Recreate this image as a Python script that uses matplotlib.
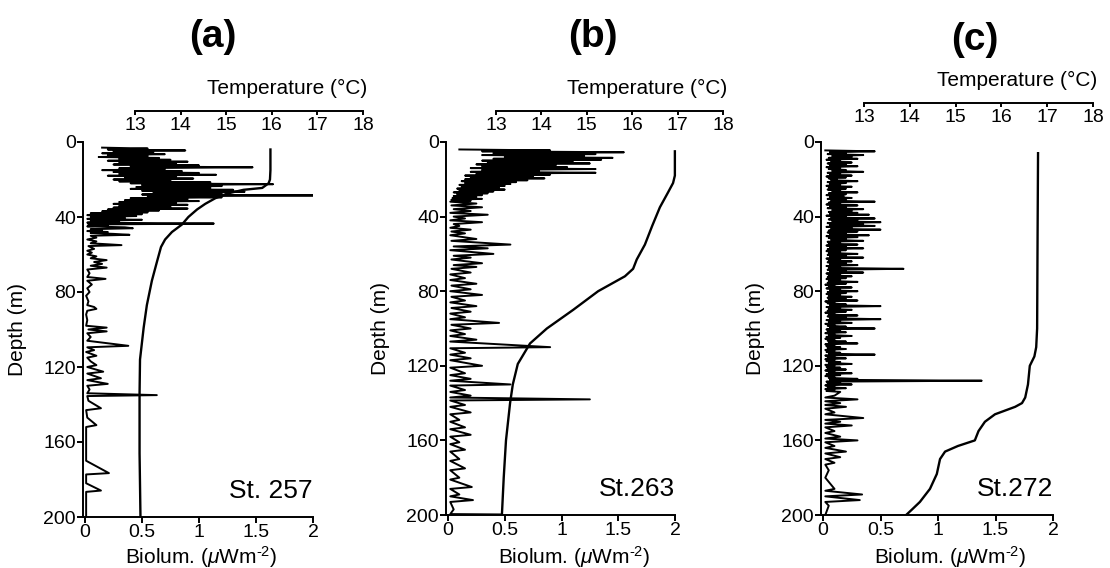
import numpy as np
import matplotlib.pyplot as plt

plt.rcParams.update({'font.family': ['Liberation Sans', 'DejaVu Sans'], 'font.size': 14,
                     'mathtext.fontset': 'custom', 'mathtext.rm': 'Liberation Sans',
                     'mathtext.it': 'Liberation Sans:italic'})

# ---- St. 257 ----
a_top_depth = np.arange(3.0, 38.5, 0.5)
a_top_bio = [0.15, 0.55, 0.20, 0.88, 0.25, 0.60, 0.15, 0.70, 0.20, 0.55,
             0.12, 0.65, 0.30, 0.75, 0.20, 0.90, 0.30, 0.80, 0.25, 1.00,
             0.40, 1.47, 0.30, 0.70, 0.15, 0.85, 0.25, 1.00, 0.30, 1.15,
             0.20, 0.80, 0.35, 0.95, 0.25, 0.75, 0.30, 1.10, 0.40, 1.65,
             0.50, 1.20, 0.45, 1.10, 0.40, 1.30, 0.50, 1.40, 0.60, 1.20,
             0.50, 2.00, 0.55, 1.20, 0.40, 0.90, 0.35, 1.00, 0.30, 0.80,
             0.25, 0.90, 0.30, 0.75, 0.25, 0.90, 0.20, 0.65, 0.15, 0.55, 0.05]
a_deep_depth = [38.5, 39, 39.5, 40, 40.5, 41, 41.5, 42, 42.5, 43,
                43.5, 44, 44.5, 45, 45.5, 46, 46.5, 47, 47.5, 48,
                48.5, 49, 49.5, 50, 51, 52, 53, 54, 55, 55.5,
                57, 58, 59, 60, 61, 62, 63, 64, 65, 66,
                67, 68, 70, 72, 73, 74, 76, 78, 80, 82,
                85, 87, 88, 89, 90, 92, 95, 98, 99, 100,
                101, 102, 104, 106, 108.7, 109.5, 111, 112, 114, 115,
                117, 119, 120, 122.5, 123.5, 126, 127, 129, 130, 132,
                134, 135, 135.5, 138, 142, 143, 147, 151, 152, 160,
                170, 176.6, 177.3, 182, 185.9, 186.6, 195, 200]
a_deep_bio = [0.50, 0.02, 0.45, 0.05, 0.35, 0.02, 0.50, 0.05, 0.30, 0.02,
              1.13, 0.03, 0.20, 0.02, 0.35, 0.42, 0.05, 0.15, 0.02, 0.20,
              0.05, 0.25, 0.39, 0.05, 0.10, 0.02, 0.10, 0.05, 0.32, 0.03,
              0.08, 0.02, 0.06, 0.02, 0.10, 0.05, 0.19, 0.08, 0.15, 0.05,
              0.19, 0.02, 0.04, 0.02, 0.18, 0.02, 0.06, 0.02, 0.04, 0.01,
              0.03, 0.02, 0.08, 0.10, 0.02, 0.01, 0.02, 0.01, 0.19, 0.03,
              0.19, 0.02, 0.05, 0.02, 0.38, 0.02, 0.08, 0.01, 0.10, 0.02,
              0.05, 0.10, 0.02, 0.16, 0.02, 0.14, 0.02, 0.20, 0.02, 0.04,
              0.02, 0.63, 0.02, 0.03, 0.14, 0.01, 0.02, 0.10, 0.01, 0.01,
              0.01, 0.21, 0.01, 0.01, 0.14, 0.01, 0.01, 0.01]
a_temp_depth = [4, 10, 15, 20, 22, 24.5, 25.5, 27.5, 30, 33, 36, 40, 44, 48, 52, 56,
                64, 74, 87, 99, 116, 134, 166, 200]
a_temp = [15.97, 15.97, 15.97, 15.96, 15.93, 15.79, 15.38, 15.02, 14.76, 14.54, 14.36,
          14.17, 14.03, 13.81, 13.66, 13.57, 13.48, 13.37, 13.26, 13.19, 13.11, 13.10,
          13.10, 13.12]

# ---- St.263 ----
b_top_depth = np.arange(4.0, 32.5, 0.5)
b_top_bio = [0.10, 0.90, 0.30, 1.55, 0.40, 1.30, 0.30, 1.20, 0.50, 1.45,
             0.40, 1.35, 0.30, 1.10, 0.35, 1.25, 0.25, 0.95, 0.30, 1.05,
             0.20, 1.30, 0.30, 0.80, 0.20, 1.30, 0.25, 0.90, 0.15, 0.75,
             0.20, 0.85, 0.15, 0.70, 0.12, 0.60, 0.15, 0.55, 0.10, 0.50,
             0.12, 0.45, 0.08, 0.50, 0.10, 0.40, 0.05, 0.35, 0.08, 0.30,
             0.05, 0.25, 0.04, 0.30, 0.03, 0.20, 0.02]
b_deep_depth = [33, 34, 35, 36, 37, 38, 39, 40, 41, 42, 43, 44, 45, 46, 47, 48, 49, 50,
                52, 53, 55, 56, 57, 58, 60, 61, 62, 63, 65, 66, 67, 68, 70, 71, 73, 74,
                76, 77, 79, 80, 82, 83, 85, 86, 88, 89, 91, 92, 94, 95, 97, 98, 100, 101,
                103, 104, 106, 107, 110, 110.6, 113, 114, 116, 117, 120, 121, 124, 125,
                127, 128, 130, 130.6, 133, 134, 136, 137, 138, 138.6, 141, 142, 145, 146,
                149, 150, 153, 154, 157, 158, 161, 162, 165, 166, 170, 171, 175, 176,
                180, 181, 185, 186, 189, 190, 192, 193, 197, 199.5, 199.7, 200]
b_deep_bio = [0.25, 0.03, 0.30, 0.05, 0.20, 0.02, 0.35, 0.05, 0.15, 0.02, 0.30, 0.05,
              0.10, 0.02, 0.20, 0.03, 0.15, 0.02,
              0.25, 0.03, 0.55, 0.05, 0.35, 0.02, 0.40, 0.05, 0.20, 0.03, 0.30, 0.05,
              0.25, 0.03, 0.20, 0.02, 0.15, 0.02, 0.25, 0.03, 0.20, 0.02, 0.30, 0.03,
              0.15, 0.02, 0.25, 0.03, 0.20, 0.02, 0.15, 0.02, 0.45, 0.03, 0.20, 0.02,
              0.15, 0.02, 0.25, 0.02, 0.90, 0.02, 0.15, 0.02, 0.20, 0.02, 0.30, 0.02,
              0.15, 0.02, 0.20, 0.02, 0.55, 0.02, 0.15, 0.02, 0.20, 0.02, 1.25, 0.02,
              0.15, 0.02, 0.20, 0.02, 0.10, 0.02, 0.15, 0.02, 0.20, 0.02, 0.10, 0.02,
              0.15, 0.02, 0.10, 0.02, 0.15, 0.02, 0.10, 0.02, 0.21, 0.02, 0.10, 0.02,
              0.22, 0.02, 0.05, 0.02, 0.47, 0.47]
b_temp_depth = [5, 18, 22, 27, 35, 45, 55, 63, 68, 72, 80, 90, 100, 108, 119, 130,
                140, 160, 180, 200]
b_temp = [16.94, 16.94, 16.90, 16.79, 16.61, 16.44, 16.28, 16.10, 16.02, 15.84, 15.25,
          14.70, 14.12, 13.75, 13.48, 13.37, 13.31, 13.22, 13.17, 13.13]

# ---- St.272 ----
c_peak_depth = np.arange(5, 135)
c_peak = [0.45, 0.20, 0.35, 0.25, 0.30, 0.15, 0.25, 0.20, 0.30, 0.15,
          0.20, 0.35, 0.15, 0.25, 0.20, 0.12, 0.30, 0.20, 0.15, 0.25,
          0.20, 0.15, 0.30, 0.20, 0.18, 0.25, 0.20, 0.45, 0.15, 0.30,
          0.20, 0.35, 0.25, 0.30, 0.40, 0.20, 0.45, 0.30, 0.50, 0.35,
          0.45, 0.25, 0.50, 0.30, 0.20, 0.40, 0.30, 0.20, 0.35, 0.15,
          0.30, 0.20, 0.35, 0.20, 0.15, 0.30, 0.20, 0.35, 0.15, 0.25,
          0.20, 0.30, 0.15, 0.70, 0.20, 0.35, 0.15, 0.25, 0.20, 0.15,
          0.30, 0.20, 0.10, 0.25, 0.15, 0.30, 0.20, 0.15, 0.25, 0.20,
          0.30, 0.10, 0.20, 0.50, 0.15, 0.25, 0.20, 0.10, 0.30, 0.20,
          0.50, 0.15, 0.25, 0.10, 0.20, 0.45, 0.15, 0.20, 0.10, 0.25,
          0.15, 0.10, 0.20, 0.30, 0.10, 0.15, 0.20, 0.10, 0.15, 0.45,
          0.10, 0.20, 0.10, 0.15, 0.25, 0.10, 0.15, 0.20, 0.10, 0.25,
          0.15, 0.10, 0.30, 1.38, 0.15, 0.25, 0.10, 0.20, 0.10, 0.15]
c_low_depth = np.arange(4.5, 134.5)
c_low = [0.02, 0.06, 0.04, 0.08, 0.05, 0.03, 0.07, 0.04, 0.06, 0.03,
         0.05, 0.08, 0.04, 0.06, 0.03, 0.05, 0.07, 0.04, 0.06, 0.03,
         0.05, 0.04, 0.08, 0.05, 0.03, 0.06, 0.04, 0.07, 0.05, 0.03,
         0.06, 0.04, 0.08, 0.05, 0.06, 0.03, 0.07, 0.05, 0.08, 0.04,
         0.06, 0.03, 0.07, 0.05, 0.04, 0.06, 0.03, 0.05, 0.07, 0.04,
         0.05, 0.03, 0.06, 0.04, 0.03, 0.05, 0.04, 0.06, 0.03, 0.05,
         0.04, 0.06, 0.03, 0.05, 0.04, 0.06, 0.03, 0.05, 0.04, 0.03,
         0.05, 0.04, 0.02, 0.05, 0.03, 0.06, 0.04, 0.03, 0.05, 0.04,
         0.05, 0.02, 0.04, 0.06, 0.03, 0.05, 0.04, 0.02, 0.05, 0.04,
         0.06, 0.03, 0.05, 0.02, 0.04, 0.06, 0.03, 0.04, 0.02, 0.05,
         0.03, 0.02, 0.04, 0.05, 0.02, 0.03, 0.04, 0.02, 0.03, 0.05,
         0.02, 0.04, 0.02, 0.03, 0.05, 0.02, 0.03, 0.04, 0.02, 0.05,
         0.03, 0.02, 0.05, 0.06, 0.03, 0.04, 0.02, 0.04, 0.02, 0.03]
c_deep_depth = [136, 137, 138, 139, 140, 141, 142, 143, 145, 146, 148, 149, 150, 151,
                152, 153, 155, 156, 158, 159, 160, 161, 163, 164, 166, 167, 169, 170,
                172, 173, 176, 180, 186, 187, 189, 190, 192, 193, 195, 200]
c_deep_bio = [0.10, 0.02, 0.30, 0.02, 0.15, 0.02, 0.20, 0.02, 0.10, 0.02, 0.35, 0.02,
              0.15, 0.02, 0.25, 0.02, 0.10, 0.02, 0.15, 0.02, 0.30, 0.02, 0.10, 0.02,
              0.20, 0.02, 0.15, 0.02, 0.10, 0.02, 0.05, 0.02, 0.10, 0.02, 0.34, 0.02,
              0.32, 0.02, 0.05, 0.02]
c_temp_depth = [6, 50, 100, 110, 115, 120, 130, 137, 140, 142, 146, 150, 155, 160, 163,
                166, 170, 178, 186, 193, 197, 200]
c_temp = [16.80, 16.79, 16.78, 16.76, 16.72, 16.62, 16.58, 16.52, 16.45, 16.30, 15.86,
          15.64, 15.50, 15.42, 15.05, 14.77, 14.66, 14.59, 14.44, 14.22, 14.05, 13.92]

depth_ticks = [0, 40, 80, 120, 160, 200]
bio_ticks = [0, 0.5, 1, 1.5, 2]
bio_ticklabels = ['0', '0.5', '1', '1.5', '2']
temp_ticks = [13, 14, 15, 16, 17, 18]

# traces
a_d = np.concatenate([a_top_depth, a_deep_depth])
a_b = np.concatenate([a_top_bio, a_deep_bio])
b_d = np.concatenate([b_top_depth, b_deep_depth])
b_b = np.concatenate([b_top_bio, b_deep_bio])
c_d = np.concatenate([np.column_stack([c_low_depth, c_peak_depth]).ravel(), c_deep_depth])
c_b = np.concatenate([np.column_stack([c_low, c_peak]).ravel(), c_deep_bio])

W, H = 1110, 568
fig = plt.figure(figsize=(W / 100, H / 100), dpi=100)


def rect(x0, x1, ytop, ybot):
    return [x0 / W, 1 - ybot / H, (x1 - x0) / W, (ybot - ytop) / H]


# geometry in pixels: spine x, bio 0 x, bio 2 x, depth 0 y, depth 200 y,
# T13 x, T18 x, temperature spine y
geo = [(83, 85, 313, 142, 517, 135, 363, 111),
       (446, 448, 675, 142, 515, 496, 723, 111),
       (821, 823, 1053, 142, 515, 864, 1093, 103)]
titles = ['(a)', '(b)', '(c)']
title_xy = [(213, 37), (593, 37), (975, 40)]
stations = ['St. 257', 'St.263', 'St.272']
traces = [(a_d, a_b), (b_d, b_b), (c_d, c_b)]
temps = [(a_temp_depth, a_temp), (b_temp_depth, b_temp), (c_temp_depth, c_temp)]
xlabel_x = [201, 574, 950]

for i in range(3):
    sx, x0, x2, yt, yb, t13, t18, ts = geo[i]
    ax = fig.add_axes(rect(sx, x2, yt, yb))
    ax.plot(traces[i][1], traces[i][0], color='black', lw=1.4)
    ax.set_xlim(-2 * (x0 - sx) / (x2 - x0), 2)
    ax.set_ylim(200, 0)
    ax.set_xticks(bio_ticks)
    ax.set_xticklabels(bio_ticklabels)
    ax.set_yticks(depth_ticks)
    for s in ['top', 'right']:
        ax.spines[s].set_visible(False)
    for s in ['left', 'bottom']:
        ax.spines[s].set_linewidth(1.4)
    ax.tick_params(direction='out', length=4, width=1.4, labelsize=14, pad=1)
    ax.set_ylabel('Depth (m)', fontsize=15, labelpad=12)
    fig.text(xlabel_x[i] / W, 1 - 557 / H, 'Biolum. ($\\mathit{\\mu}$Wm$^{\\text{-}2}$)',
             ha='center', va='center', fontsize=15)
    ax.text(1.0, 0.07, stations[i], transform=ax.transAxes, ha='right', va='center',
            fontsize=19)

    axt = fig.add_axes(rect(t13, t18, yt, yb))
    axt.patch.set_visible(False)
    axt.plot(temps[i][1], temps[i][0], color='black', lw=1.7)
    axt.set_xlim(13, 18)
    axt.set_ylim(200, 0)
    axt.set_yticks([])
    for s in ['top', 'right', 'left']:
        axt.spines[s].set_visible(False)
    axt.spines['bottom'].set_position(('axes', 1 + (yt - ts) / (yb - yt)))
    axt.spines['bottom'].set_linewidth(1.4)
    axt.set_xticks(temp_ticks)
    axt.tick_params(axis='x', direction='out', length=3, width=1.4, labelsize=14, pad=1)
    fig.text((t18 + 4) / W, 1 - (ts - 23) / H, 'Temperature (°C)', ha='right',
             va='center', fontsize=15)

    fig.text(title_xy[i][0] / W, 1 - title_xy[i][1] / H, titles[i], ha='center',
             va='center', fontsize=28, fontweight='bold',
             family=['Liberation Sans Narrow', 'Liberation Sans'])

fig.savefig('out.png', dpi=100)
